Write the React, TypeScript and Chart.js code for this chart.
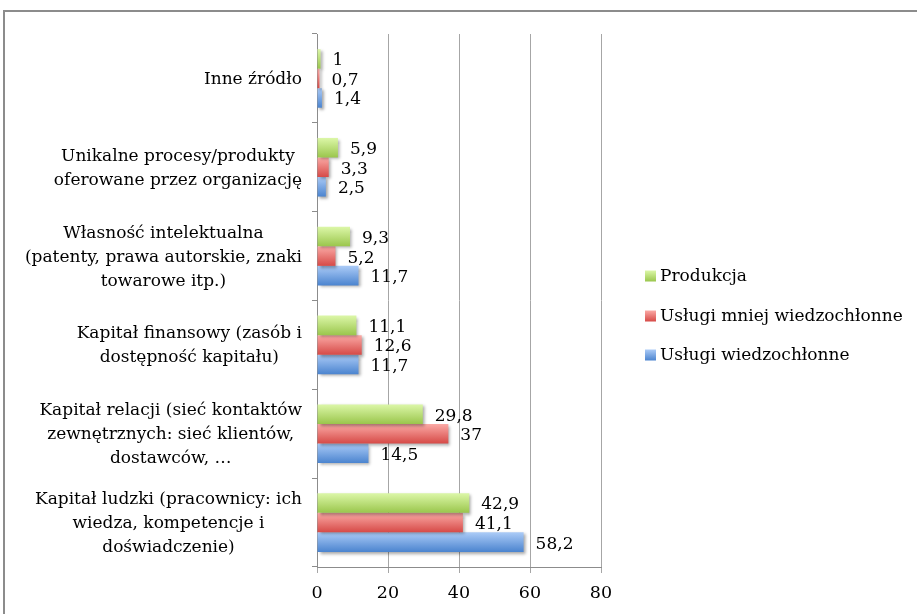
import React, { useEffect, useRef } from "react";
import { Chart, registerables } from "chart.js";

Chart.register(...registerables);

const categories: string[][] = [
  ["Inne źródło"],
  ["Unikalne procesy/produkty", "oferowane przez organizację"],
  ["Własność intelektualna", "(patenty, prawa autorskie, znaki", "towarowe itp.)"],
  ["Kapitał finansowy (zasób i", "dostępność kapitału)"],
  ["Kapitał relacji (sieć kontaktów", "zewnętrznych: sieć klientów,", "dostawców, …"],
  ["Kapitał ludzki (pracownicy: ich", "wiedza, kompetencje i", "doświadczenie)"],
];

const seriesNames = ["Produkcja", "Usługi mniej wiedzochłonne", "Usługi wiedzochłonne"];
const produkcja = [1, 5.9, 9.3, 11.1, 29.8, 42.9];
const uslugiMniej = [0.7, 3.3, 5.2, 12.6, 37, 41.1];
const uslugiWiedzo = [1.4, 2.5, 11.7, 11.7, 14.5, 58.2];
const xTicks = [0, 20, 40, 60, 80];

const gradients: [string, string][] = [
  ["#dcf7a8", "#9ac64c"],
  ["#fbaaa6", "#d64a47"],
  ["#abcbf7", "#4b84cf"],
];

const FONT = "'DejaVu Serif', serif";

const fmt = (v: number) => String(v).replace(".", ",");

const App: React.FC = () => {
  const ref = useRef<HTMLCanvasElement | null>(null);

  useEffect(() => {
    document.body.style.margin = "0";
    const canvas = ref.current!;
    const plugin = {
      id: "custom",
      beforeDraw(chart: any) {
        const ctx = chart.ctx;
        ctx.save();
        ctx.strokeStyle = "#8c8c8c";
        ctx.lineWidth = 2;
        ctx.beginPath();
        ctx.moveTo(4, 614);
        ctx.lineTo(4, 11);
        ctx.lineTo(917, 11);
        ctx.stroke();
        ctx.restore();
      },
      beforeDatasetsDraw(chart: any) {
        const ctx = chart.ctx;
        chart.data.datasets.forEach((ds: any, di: number) => {
          const meta = chart.getDatasetMeta(di);
          meta.data.forEach((el: any) => {
            const { y, height } = el.getProps(["y", "height"], true);
            const g = ctx.createLinearGradient(0, y - height / 2, 0, y + height / 2);
            g.addColorStop(0, gradients[di][0]);
            g.addColorStop(1, gradients[di][1]);
            el.options.backgroundColor = g;
          });
        });
        ctx.save();
        ctx.shadowColor = "rgba(0,0,0,0.35)";
        ctx.shadowBlur = 3;
        ctx.shadowOffsetX = 2;
        ctx.shadowOffsetY = 2;
      },
      afterDatasetsDraw(chart: any) {
        const ctx = chart.ctx;
        ctx.restore();
        ctx.save();
        ctx.font = `17px ${FONT}`;
        ctx.fillStyle = "#000";
        ctx.textAlign = "left";
        ctx.textBaseline = "middle";
        chart.data.datasets.forEach((ds: any, di: number) => {
          const meta = chart.getDatasetMeta(di);
          meta.data.forEach((el: any, i: number) => {
            const { x, y } = el.getProps(["x", "y"], true);
            ctx.fillText(fmt(ds.data[i]), x + 12, y + 2);
          });
        });
        ctx.restore();
      },
      afterDraw(chart: any) {
        const ctx = chart.ctx;
        const yScale = chart.scales.y;
        ctx.save();
        ctx.font = `17px ${FONT}`;
        ctx.fillStyle = "#000";
        ctx.textAlign = "center";
        ctx.textBaseline = "middle";
        const lh = 24;
        categories.forEach((lines, i) => {
          const cy = yScale.getPixelForTick(i);
          const w = Math.max(...lines.map((l) => ctx.measureText(l).width));
          const cx = 302 - w / 2;
          lines.forEach((l, k) => {
            ctx.fillText(l, cx, cy + (k - (lines.length - 1) / 2) * lh + 1);
          });
        });
        // legend
        ctx.textAlign = "left";
        const ly = [276, 316, 355];
        chart.data.datasets.forEach((ds: any, di: number) => {
          const y = ly[di];
          const g = ctx.createLinearGradient(0, y - 5.5, 0, y + 5.5);
          g.addColorStop(0, gradients[di][0]);
          g.addColorStop(1, gradients[di][1]);
          ctx.fillStyle = g;
          ctx.fillRect(645, y - 5.5, 11, 11);
          ctx.fillStyle = "#000";
          ctx.fillText(ds.label, 660, y + 1);
        });
        ctx.restore();
      },
    };

    const chart = new Chart(canvas, {
      type: "bar",
      data: {
        labels: categories.map((c) => c.join(" ")),
        datasets: [
          { label: seriesNames[0], data: produkcja },
          { label: seriesNames[1], data: uslugiMniej },
          { label: seriesNames[2], data: uslugiWiedzo },
        ].map((d, i) => ({
          ...d,
          backgroundColor: () => gradients[i][1],
          borderWidth: 0,
          categoryPercentage: 0.66,
          barPercentage: 1,
        })),
      },
      options: {
        indexAxis: "y",
        responsive: false,
        animation: false,
        layout: { padding: { left: 0, top: 34, right: 316, bottom: 0 } },
        plugins: { legend: { display: false }, tooltip: { enabled: false } },
        scales: {
          x: {
            min: 0,
            max: 80,
            afterFit: (s: any) => {
              s.height = 47;
            },
            afterBuildTicks: (s: any) => {
              s.ticks = xTicks.map((v) => ({ value: v }));
            },
            ticks: {
              font: { family: FONT, size: 17.5 },
              color: "#000",
              padding: 10,
            },
            grid: { color: "#a6a6a6", tickLength: 6, drawTicks: true },
            border: { display: true, color: "#8c8c8c" },
          },
          y: {
            type: "category",
            afterFit: (s: any) => {
              s.width = 317;
            },
            ticks: { display: false },
            grid: { drawOnChartArea: false, drawTicks: true, tickLength: 5, offset: true, color: "#8c8c8c" },
            border: { display: true, color: "#8c8c8c" },
          },
        },
      },
      plugins: [plugin],
    } as any);
    return () => chart.destroy();
  }, []);

  return <canvas ref={ref} width={917} height={614} style={{ display: "block" }} />;
};

export default App;
